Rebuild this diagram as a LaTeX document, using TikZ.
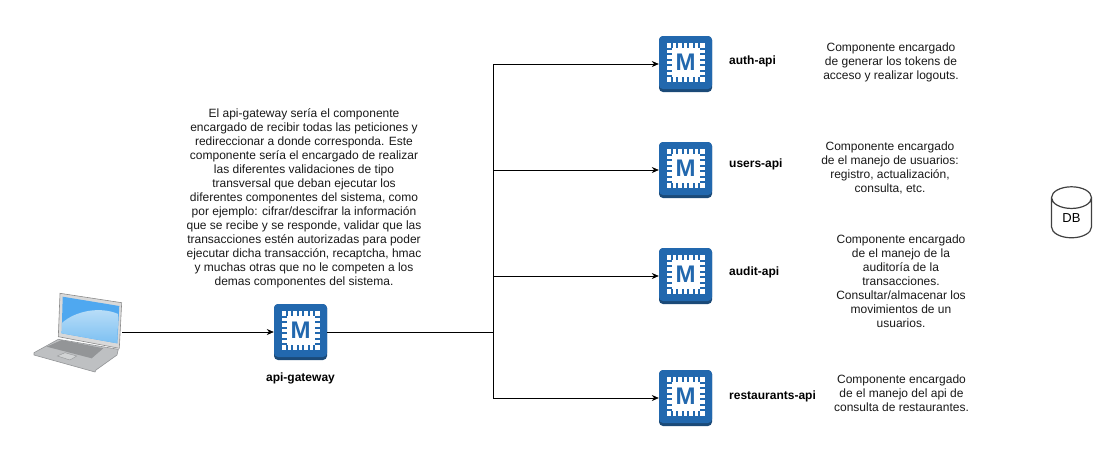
\documentclass[tikz,border=0pt]{standalone}
\usepackage{fontspec}
\setmainfont{Liberation Sans}
\usetikzlibrary{arrows.meta, shapes.geometric}

\definecolor{chipblue}{HTML}{2268AE}
\definecolor{chipdark}{HTML}{1B4A78}
\definecolor{skyblue}{HTML}{4FA8F0}
\definecolor{skypale}{HTML}{BFE0F8}
\definecolor{skymid}{HTML}{7CC0F2}
\definecolor{laptopgray}{HTML}{BEC0C2}
\definecolor{laptopedge}{HTML}{939597}

\tikzset{
  chipbody/.style={fill=chipdark,rounded corners=4pt,minimum width=53pt,minimum height=56pt,inner sep=0pt},
  apilabel/.style={font=\fontsize{12}{14}\selectfont\bfseries},
  apitext/.style={font=\fontsize{12}{14}\selectfont,align=center,text=black!90},
  link/.style={-{Stealth[length=7pt,width=6pt]},line width=0.7pt},
}

\newcommand{\chipicon}[2]{
  \node[chipbody] (#1) at (#2) {};
  \begin{scope}[shift={(#1.center)}]
    \fill[chipblue,rounded corners=4pt] (-26.5,-28) rectangle (26.5,25);
    \fill[white] (-19,-21) rectangle (19,18);
    \foreach \d in {-13.75,-8.25,-2.75,2.75,8.25,13.75}{
      \fill[chipblue] (\d-1,-21) rectangle (\d+1,-16);
      \fill[chipblue] (\d-1,18) rectangle (\d+1,13);
      \fill[chipblue] (-19,\d-2.5) rectangle (-14,\d-0.5);
      \fill[chipblue] (19,\d-2.5) rectangle (14,\d-0.5);
    }
    \node[font=\fontsize{24}{24}\selectfont\bfseries,text=chipblue,inner sep=0pt] (#1-m) at (0,-1.5) {M};
  \end{scope}
}

\begin{document}
\begin{tikzpicture}[x=1pt,y=-1pt]
  \useasboundingbox (0,0) rectangle (1114,472);

  % laptop
  \filldraw[fill=laptopgray,draw=laptopedge,line width=0.6pt] (34,352.7) -- (58.3,339.3) -- (118.3,349.3) -- (117,355) -- (96,370) -- (95,372) -- (34,355) -- cycle;
  \fill[laptopedge] (46.7,346.7) -- (61.7,340) -- (103.3,348.3) -- (91.7,358.3) -- cycle;
  \filldraw[fill=laptopgray!70,draw=laptopedge,line width=0.4pt] (57.3,356) -- (65,352.7) -- (76.7,356) -- (70,360) -- cycle;
  \filldraw[fill=black!15,draw=black!45,line width=0.6pt] (60,293.3) -- (121.7,302.7) -- (119.3,348.3) -- (58.3,336.7) -- cycle;
  \fill[skyblue] (62.7,296.7) -- (119.3,306) -- (117.3,343.3) -- (61.7,333.3) -- cycle;
  \shade[top color=skypale,bottom color=skymid] (61.9,323) .. controls (75,311) and (100,306) .. (118.2,314) -- (117.3,343.3) -- (61.7,333.3) -- cycle;
  \coordinate (laptop) at (122,332);

  \node[apitext] (gatewaytext) at (304,198.5) {El api-gateway sería el componente\\encargado de recibir todas las peticiones y\\redireccionar a donde corresponda. Este\\componente sería el encargado de realizar\\las diferentes validaciones de tipo\\transversal que deban ejecutar los\\diferentes componentes del sistema, como\\por ejemplo: cifrar/descifrar la información\\que se recibe y se responde, validar que las\\transacciones estén autorizadas para poder\\ejecutar dicha transacción, recaptcha, hmac\\y muchas otras que no le competen a los\\demas componentes del sistema.};

  \chipicon{gateway}{300.5,332}
  \chipicon{auth}{685.5,64}
  \chipicon{users}{685.5,170}
  \chipicon{audit}{685.5,276}
  \chipicon{restaurants}{685.5,398}

  \node[apilabel] (gatewaylabel) at (300.5,378) {api-gateway};
  \node[apilabel,anchor=west,inner sep=0pt] (authlabel) at (729,61) {auth-api};
  \node[apilabel,anchor=west,inner sep=0pt] (userslabel) at (729,164) {users-api};
  \node[apilabel,anchor=west,inner sep=0pt] (auditlabel) at (729,272) {audit-api};
  \node[apilabel,anchor=west,inner sep=0pt] (restaurantslabel) at (729,396) {restaurants-api};

  \node[apitext] (authtext) at (891,62) {Componente encargado\\de generar los tokens de\\acceso y realizar logouts.};
  \node[apitext] (userstext) at (890,168) {Componente encargado\\de el manejo de usuarios:\\registro, actualización,\\consulta, etc.};
  \node[apitext] (audittext) at (901,281) {Componente encargado\\de el manejo de la\\auditoría de la\\transacciones.\\Consultar/almacenar los\\movimientos de un\\usuarios.};
  \node[apitext] (restaurantstext) at (901.5,393) {Componente encargado\\de el manejo del api de\\consulta de restaurantes.};

  \node[cylinder,shape border rotate=90,aspect=1.2,draw=black!75,line width=1.2pt,minimum width=40pt,minimum height=51pt,inner sep=0pt,font=\fontsize{13}{14}\selectfont] (db) at (1071.5,218) {DB};

  \coordinate (trunk) at (493.5,332);
  \draw[link] (laptop) -- (gateway);
  \draw[line width=0.7pt] (gateway) -- (trunk);
  \draw[link] (trunk) |- (auth);
  \draw[link] (trunk) |- (users);
  \draw[link] (trunk) |- (audit);
  \draw[link] (trunk) |- (restaurants);
\end{tikzpicture}
\end{document}
